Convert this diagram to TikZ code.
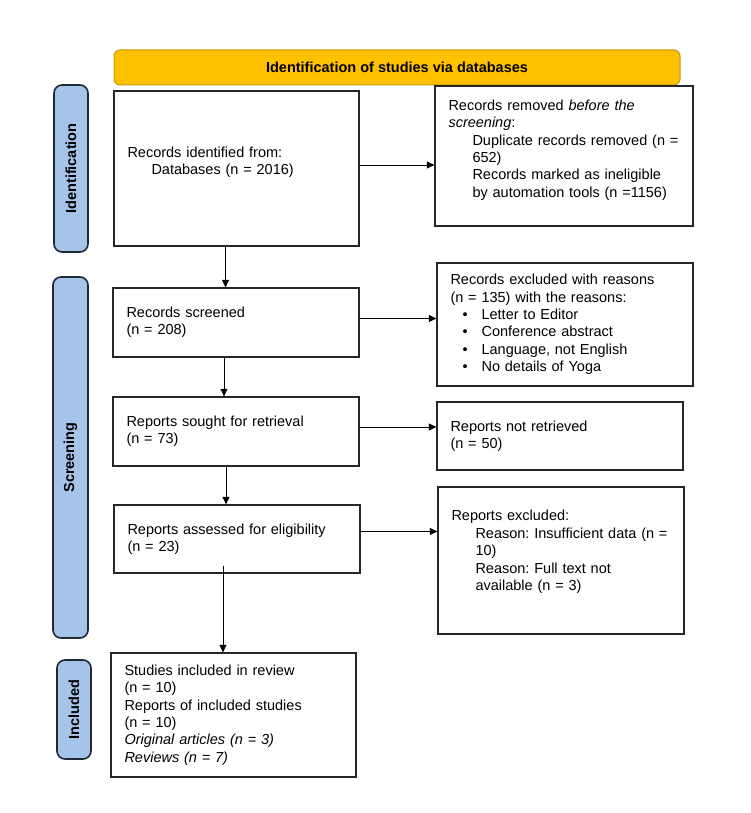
\documentclass[tikz,border=0pt]{standalone}
\usepackage{fontspec}
\setmainfont{Liberation Sans}
\usetikzlibrary{arrows.meta}
\definecolor{banner}{HTML}{FFC000}
\definecolor{bannerline}{HTML}{C99A06}
\definecolor{phase}{HTML}{A6C4EA}
\definecolor{phaseline}{HTML}{1F2933}
\newcommand{\ind}{\hspace*{24pt}}
\newcommand{\bul}{\hspace*{12pt}\textbullet\hspace*{14pt}}

\begin{document}
\begin{tikzpicture}[x=1pt,y=-1pt,font=\fontsize{14.5}{17.4}\selectfont\frenchspacing,
  box/.style={draw=black!85,line width=1.3pt,align=left,inner xsep=13.5pt,inner ysep=0pt},
  phasebox/.style={draw=phaseline,fill=phase,line width=1.6pt,rounded corners=8pt,rotate=90,inner sep=0pt,font=\fontsize{14.5}{17.4}\selectfont\bfseries},
  arr/.style={-{Triangle[length=7.5pt,width=7pt]},line width=0.9pt}]
\useasboundingbox (0,0) rectangle (750,813);
\node (banner) [draw=bannerline,fill=banner,line width=1pt,rounded corners=6pt,minimum width=566pt,minimum height=35pt,font=\fontsize{14.5}{17.4}\selectfont\bfseries] at (397,67.5) {Identification of studies via databases};
\node (idlab) [phasebox,minimum width=167pt,minimum height=34pt] at (71,168.5) {Identification};
\node (scrlab) [phasebox,minimum width=361pt,minimum height=35pt] at (70.5,457.5) {Screening};
\node (inclab) [phasebox,minimum width=99pt,minimum height=34pt] at (74,709.5) {Included};

\node (ident) [box,text width=218pt,minimum height=155pt,text depth=33.5pt] at (236.5,168.5) {Records identified from:\\\ind Databases (n = 2016)};
\node (removed) [box,text width=231pt,minimum height=140pt,text depth=102pt] at (564,156) {Records removed \textit{before the}\\\textit{screening}:\\\ind Duplicate records removed (n =\\\ind 652)\\\ind Records marked as ineligible\\\ind by automation tools (n =1156)};
\node (screened) [box,text width=219pt,minimum height=69pt] at (236,322.5) {Records screened\\(n = 208)};
\node (excluded) [box,text width=229pt,minimum height=123pt] at (565,324.5) {Records excluded with reasons\\(n = 135) with the reasons:\\\bul Letter to Editor\\\bul Conference abstract\\\bul Language, not English\\\bul No details of Yoga};
\node (sought) [box,text width=219pt,minimum height=69pt] at (236,431.5) {Reports sought for retrieval\\(n = 73)};
\node (notret) [box,text width=219pt,minimum height=68pt] at (560,436) {Reports not retrieved\\(n = 50)};
\node (assessed) [box,text width=219pt,minimum height=68pt] at (237,539) {Reports assessed for eligibility\\(n = 23)};
\node (excl2) [box,text width=219pt,minimum height=147pt,text depth=89.6pt] at (561,560.5) {Reports excluded:\\\ind Reason: Insufficient data (n =\\\ind 10)\\\ind Reason: Full text not\\\ind available (n = 3)};
\node (included) [box,text width=218pt,minimum height=124pt] at (233.5,715) {Studies included in review\\(n = 10)\\Reports of included studies\\(n = 10)\\\textit{Original articles (n = 3)}\\\textit{Reviews (n = 7)}};

\draw[arr] ([yshift=3.5pt]ident.east) -- ([yshift=3.5pt]ident.east -| removed.west);
\draw[arr] ([yshift=4pt]screened.east) -- ([yshift=4pt]screened.east -| excluded.west);
\draw[arr] ([yshift=4.5pt]sought.east) -- ([yshift=4.5pt]sought.east -| notret.west);
\draw[arr] ([yshift=7.5pt]assessed.east) -- ([yshift=7.5pt]assessed.east -| excl2.west);
\draw[arr] ([xshift=-11pt]ident.south) -- ([xshift=-11pt]ident.south |- screened.north);
\draw[arr] ([xshift=-12pt]screened.south) -- ([xshift=-12pt]screened.south |- sought.north);
\draw[arr] ([xshift=-10pt]sought.south) -- ([xshift=-10pt]sought.south |- assessed.north);
\draw[arr] ([xshift=-14pt,yshift=8pt]assessed.south) -- ([xshift=-14pt]assessed.south |- included.north);
\end{tikzpicture}
\end{document}
